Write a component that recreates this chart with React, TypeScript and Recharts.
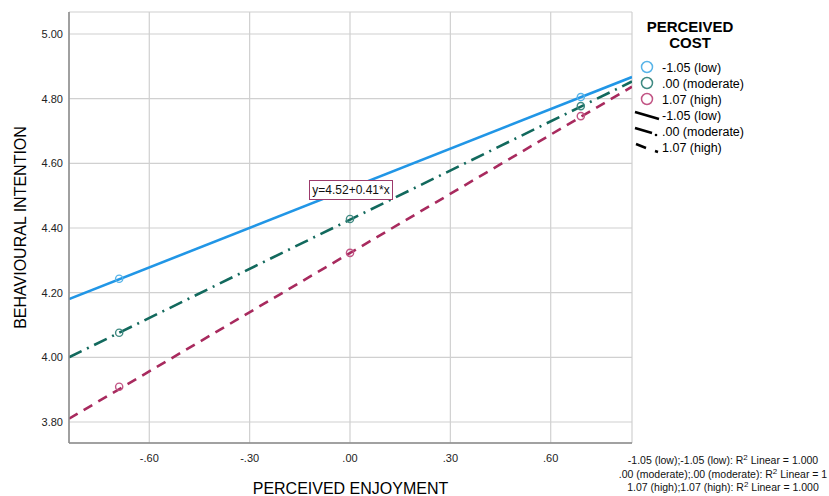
import {
  ComposedChart,
  Line,
  Scatter,
  XAxis,
  YAxis,
  CartesianGrid,
} from "recharts";

// regression line end points (x at the axis edges)
const lineX = [-0.84, 0.843];
const lowLine = [4.18, 4.867];
const moderateLine = [4.0, 4.853];
const highLine = [3.81, 4.837];

// observed points
const pointX = [-0.69, 0, 0.69];
const lowPoints = [4.243, 4.52, 4.805];
const moderatePoints = [4.076, 4.428, 4.777];
const highPoints = [3.909, 4.323, 4.746];

const xTicks = [-0.6, -0.3, 0, 0.3, 0.6];
const xTickLabels = ["-.60", "-.30", ".00", ".30", ".60"];
const yTicks = [3.8, 4.0, 4.2, 4.4, 4.6, 4.8, 5.0];
const yTickLabels = ["3.80", "4.00", "4.20", "4.40", "4.60", "4.80", "5.00"];

const groups = ["-1.05 (low)", ".00 (moderate)", "1.07 (high)"];
const footnotes = [
  "-1.05 (low);-1.05 (low): R",
  ".00 (moderate);.00 (moderate): R",
  "1.07 (high);1.07 (high): R",
];
const footValues = [" Linear = 1.000", " Linear = 1", " Linear = 1.000"];

const LINE_COLORS = ["#2196e6", "#12695d", "#a82a5e"];
const POINT_COLORS = ["#58b4e8", "#3f8a82", "#c25585"];
const DASHES = [undefined, "14 6 2 6", "10 7"];

const toRows = (xs: number[], ys: number[]) =>
  xs.map((x, i) => ({ x, y: ys[i] }));

const FONT = "'Liberation Sans', Arial, sans-serif";

function CostLegend() {
  return (
    <div
      style={{
        position: "absolute",
        left: 632,
        top: 19,
        width: 190,
        fontFamily: FONT,
        color: "#000",
      }}
    >
      <div
        style={{
          fontWeight: "bold",
          fontSize: 15,
          lineHeight: "16px",
          textAlign: "center",
          width: 116,
        }}
      >
        PERCEIVED
        <br />
        COST
      </div>
      <svg width={190} height={110} style={{ display: "block", marginTop: 8 }}>
        {groups.map((g, i) => (
          <g key={"p" + i}>
            <circle
              cx={15}
              cy={8 + i * 16}
              r={5.5}
              fill="none"
              stroke={POINT_COLORS[i]}
              strokeWidth={1.5}
            />
            <text x={30} y={12.5 + i * 16} fontSize={12.5} fontFamily={FONT}>
              {g}
            </text>
          </g>
        ))}
        <line x1={3} y1={53} x2={27} y2={60} stroke="#000" strokeWidth={2.5} />
        <line x1={3} y1={69} x2={20} y2={74} stroke="#000" strokeWidth={2.5} />
        <circle cx={24} cy={76} r={1.3} fill="#000" />
        <line x1={4} y1={85} x2={14} y2={89} stroke="#000" strokeWidth={2.5} />
        <line x1={23} y1={92} x2={26} y2={93} stroke="#000" strokeWidth={2.5} />
        {groups.map((g, i) => (
          <text
            key={"l" + i}
            x={30}
            y={60.5 + i * 16}
            fontSize={12.5}
            fontFamily={FONT}
          >
            {g}
          </text>
        ))}
      </svg>
    </div>
  );
}

const renderYLabel = (props: any) => {
  const vb = props.viewBox || {};
  const cy = (vb.y || 12) + (vb.height || 431) / 2;
  return (
    <text
      x={26}
      y={cy}
      transform={`rotate(-90 26 ${cy})`}
      textAnchor="middle"
      fontSize={16}
      fontFamily={FONT}
      fill="#000"
    >
      BEHAVIOURAL INTENTION
    </text>
  );
};

export default function App() {
  const series = [
    { line: lowLine, pts: lowPoints },
    { line: moderateLine, pts: moderatePoints },
    { line: highLine, pts: highPoints },
  ];

  return (
    <div
      style={{
        position: "absolute",
        left: 0,
        top: 0,
        width: 829,
        height: 496,
        background: "#fff",
        overflow: "hidden",
        fontFamily: FONT,
      }}
    >
      <ComposedChart
        width={829}
        height={496}
        margin={{ top: 12, right: 197, bottom: 0, left: 0 }}
      >
        <CartesianGrid stroke="#d0d0d0" strokeWidth={1.2} />
        <XAxis
          dataKey="x"
          type="number"
          domain={[-0.84, 0.843]}
          allowDataOverflow
          ticks={xTicks}
          tickFormatter={(v: number) => xTickLabels[xTicks.indexOf(v)]}
          tickLine={false}
          tickSize={4}
          tickMargin={7}
          height={53}
          axisLine={{ stroke: "#8a8a8a", strokeWidth: 1.5 }}
          tick={{ fontSize: 11, fill: "#222", fontFamily: FONT }}
          label={{
            value: "PERCEIVED ENJOYMENT",
            position: "insideBottom",
            offset: 2,
            fontSize: 16,
            fill: "#000",
            fontFamily: FONT,
          }}
        />
        <YAxis
          type="number"
          domain={[3.735, 5.068]}
          allowDataOverflow
          ticks={yTicks}
          tickFormatter={(v: number) =>
            yTickLabels[yTicks.findIndex((t) => Math.abs(t - v) < 1e-6)]
          }
          tickLine={false}
          tickSize={4}
          tickMargin={2}
          width={69}
          axisLine={{ stroke: "#8a8a8a", strokeWidth: 1.5 }}
          tick={{ fontSize: 11, fill: "#222", fontFamily: FONT }}
          label={{ content: renderYLabel }}
        />
        {series.map((s, i) => (
          <Line
            key={"line" + i}
            data={toRows(lineX, s.line)}
            dataKey="y"
            stroke={LINE_COLORS[i]}
            strokeWidth={2.6}
            strokeDasharray={DASHES[i]}
            dot={false}
            activeDot={false}
            isAnimationActive={false}
            legendType="none"
          />
        ))}
        {series.map((s, i) => (
          <Scatter
            key={"pts" + i}
            data={toRows(pointX, s.pts)}
            dataKey="y"
            fill="none"
            isAnimationActive={false}
            legendType="none"
            shape={(p: any) => (
              <circle
                cx={p.cx}
                cy={p.cy}
                r={3.6}
                fill="none"
                stroke={POINT_COLORS[i]}
                strokeWidth={1.4}
              />
            )}
          />
        ))}
      </ComposedChart>

      <CostLegend />

      <div
        style={{
          position: "absolute",
          left: 309,
          top: 180,
          width: 82,
          height: 18,
          border: "1.5px solid #9c3a6c",
          background: "#fff",
          fontSize: 12,
          lineHeight: "18px",
          textAlign: "center",
          color: "#111",
        }}
      >
        y=4.52+0.41*x
      </div>

      <div
        style={{
          position: "absolute",
          left: 598,
          top: 454,
          width: 250,
          textAlign: "center",
          fontSize: 10.5,
          lineHeight: "13.5px",
          color: "#111",
          whiteSpace: "nowrap",
        }}
      >
        {footnotes.map((f, i) => (
          <div key={i}>
            {f}
            <sup style={{ fontSize: 8, lineHeight: 0 }}>2</sup>
            {footValues[i]}
          </div>
        ))}
      </div>
    </div>
  );
}
